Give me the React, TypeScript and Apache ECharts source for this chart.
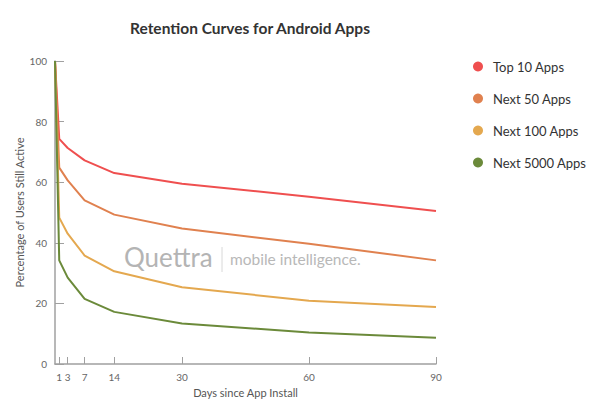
import React, { useEffect, useRef } from "react";
import * as echarts from "echarts";

const days = [0, 1, 3, 7, 14, 30, 60, 90];
const tickDays = [1, 3, 7, 14, 30, 60, 90];
const seriesNames = ["Top 10 Apps", "Next 50 Apps", "Next 100 Apps", "Next 5000 Apps"];
const top10 = [100, 74.3, 71.3, 67.2, 63.0, 59.5, 55.2, 50.5];
const next50 = [100, 64.8, 60.6, 54.0, 49.3, 44.7, 39.7, 34.2];
const next100 = [100, 48.3, 43.0, 35.8, 30.6, 25.3, 20.9, 18.8];
const next5000 = [100, 34.2, 28.5, 21.5, 17.2, 13.4, 10.4, 8.7];
const colors = ["#ef4f4f", "#e0814f", "#e4a84f", "#6b8a3a"];

export default function App() {
  const ref = useRef<HTMLDivElement>(null);
  useEffect(() => {
    if (!ref.current) return;
    const chart = echarts.init(ref.current, null, { renderer: "svg" });
    const values = [top10, next50, next100, next5000];
    const font = "Lato, 'Open Sans', sans-serif";
    chart.setOption({
      animation: false,
      backgroundColor: "#ffffff",
      textStyle: { fontFamily: font },
      title: {
        text: "Retention Curves for Android Apps",
        left: 245,
        textAlign: "center",
        top: 15,
        textStyle: { fontSize: 15.5, fontWeight: "bold", color: "#333333", fontFamily: font },
      },
      legend: {
        orient: "vertical",
        left: 468,
        top: 55,
        icon: "circle",
        itemWidth: 10,
        itemHeight: 10,
        itemGap: 19,
        data: seriesNames,
        textStyle: { fontSize: 13, color: "#333333", padding: [0, 0, 0, 5], fontFamily: font },
      },
      grid: { left: 55, right: 157, top: 61, bottom: 39 },
      xAxis: {
        type: "value",
        min: 0,
        max: 90,
        name: "Days since App Install",
        nameLocation: "middle",
        nameGap: 16,
        nameTextStyle: { fontSize: 11, color: "#555555" },
        splitLine: { show: false },
        axisLine: { lineStyle: { color: "#a0a0a0", width: 1.5 } },
        axisTick: { inside: true, length: 7, customValues: tickDays, lineStyle: { color: "#a0a0a0" } },
        axisLabel: { customValues: tickDays, fontSize: 10, color: "#666666", margin: 8 },
      },
      yAxis: {
        type: "value",
        min: 0,
        max: 100,
        interval: 20,
        name: "Percentage of Users Still Active",
        nameLocation: "middle",
        nameGap: 30,
        nameMoveOverlap: false,
        nameTextStyle: { fontSize: 11, color: "#555555" },
        splitLine: { show: false },
        axisLine: { show: true, lineStyle: { color: "#a0a0a0", width: 1.5 } },
        axisTick: { show: true, inside: true, length: 9, lineStyle: { color: "#a0a0a0" } },
        axisLabel: { fontSize: 10, color: "#666666", margin: 8 },
      },
      graphic: [
        {
          type: "text",
          left: 124,
          top: 244,
          style: { text: "Quettra", fontSize: 26, fill: "#b4b4b4", fontFamily: font },
          z: 0,
        },
        {
          type: "line",
          shape: { x1: 222, y1: 247, x2: 222, y2: 272 },
          style: { stroke: "#d8d8d8", lineWidth: 1 },
          z: 0,
        },
        {
          type: "text",
          left: 230,
          top: 251,
          style: { text: "mobile intelligence.", fontSize: 15.5, fill: "#b8b8b8", fontFamily: font },
          z: 0,
        },
      ],
      series: values.map((v, i) => ({
        name: seriesNames[i],
        type: "line",
        data: days.map((d, j) => [d, v[j]]),
        showSymbol: false,
        symbol: "none",
        itemStyle: { color: colors[i] },
        lineStyle: { color: colors[i], width: 2 },
        z: 5,
      })),
    });
    return () => chart.dispose();
  }, []);
  return (
    <div
      ref={ref}
      style={{ position: "fixed", left: 0, top: 0, width: 593, height: 403 }}
    />
  );
}
